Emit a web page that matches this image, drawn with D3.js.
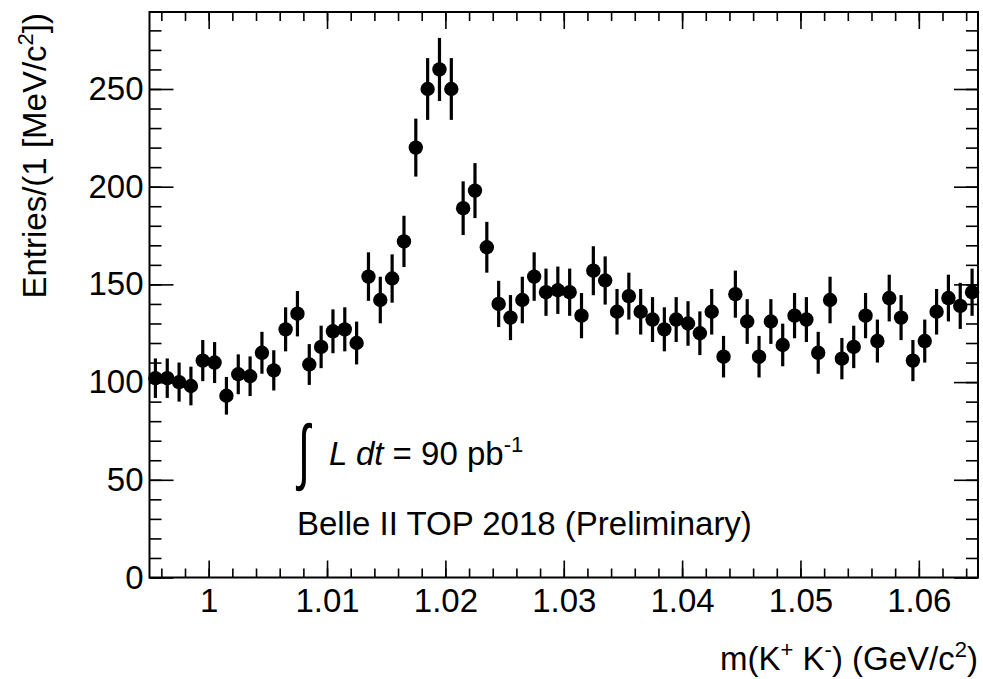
<!DOCTYPE html>
<html>
<head>
<meta charset="utf-8">
<script src="https://cdn.jsdelivr.net/npm/d3@7"></script>
<style>
  html, body { margin: 0; padding: 0; background: #fff; }
  svg { display: block; }
  text { font-family: "Liberation Sans", Arial, Helvetica, sans-serif; fill: #000; }
</style>
</head>
<body>
<svg id="chart" width="983" height="679"></svg>
<script>
// ---- data ----
const binLow = 0.995;          // GeV/c^2
const binWidth = 0.001;        // 1 MeV/c^2
const counts = [
  102, 102, 100, 98, 111, 110, 93, 104, 103, 115,
  106, 127, 135, 109, 118, 126, 127, 120, 154, 142,
  153, 172, 220, 250, 260, 250, 189, 198, 169, 140,
  133, 142, 154, 146, 147, 146, 134, 157, 152, 136,
  144, 136, 132, 127, 132, 130, 125, 136, 113, 145,
  131, 113, 131, 119, 134, 132, 115, 142, 112, 118,
  134, 121, 143, 133, 111, 121, 136, 143, 139, 146
];
const xTickValues = [1.00, 1.01, 1.02, 1.03, 1.04, 1.05, 1.06];
const xTickLabels = ["1", "1.01", "1.02", "1.03", "1.04", "1.05", "1.06"];
const yTickValues = [0, 50, 100, 150, 200, 250];
const xDomain = [0.995, 1.065];
const yDomain = [0, 289.4];

// ---- layout ----
const svg = d3.select("#chart");
const L = 149.5, R = 978, T = 12, B = 577.5;
const FS = 33, SUP = 22;

const x = d3.scaleLinear().domain(xDomain).range([L, R]);
const y = d3.scaleLinear().domain(yDomain).range([B, T]);

const points = counts.map((c, i) => ({
  x: binLow + (i + 0.5) * binWidth,
  n: c,
  err: Math.sqrt(c)
}));

// minor ticks
const xMinor = d3.range(0, 36).map(i => +(0.996 + i * 0.002).toFixed(3)).filter(v => v < 1.065);
const yMinor = d3.range(0, 29).map(i => i * 10);

const g = svg.append("g");

const xMajLen = 17, xMinLen = 9, yMajLen = 24, yMinLen = 12;

function styleAxis(sel) {
  sel.select(".domain").remove();
  sel.selectAll(".tick line").attr("stroke", "#000").attr("stroke-width", 1.6);
}
function styleText(sel) {
  sel.selectAll("text").attr("font-size", FS)
    .attr("font-family", "Liberation Sans, Arial, sans-serif").attr("fill", "#000");
}

// bottom
g.append("g").attr("transform", `translate(0,${B})`)
  .call(d3.axisBottom(x).tickValues(xMinor).tickSize(-xMinLen).tickFormat(""))
  .call(styleAxis);
g.append("g").attr("transform", `translate(0,${B})`)
  .call(d3.axisBottom(x).tickValues(xTickValues).tickSize(-xMajLen)
        .tickFormat((d, i) => xTickLabels[i]).tickPadding(11))
  .call(styleAxis).call(styleText);
// top
g.append("g").attr("transform", `translate(0,${T})`)
  .call(d3.axisTop(x).tickValues(xMinor).tickSize(-xMinLen).tickFormat(""))
  .call(styleAxis);
g.append("g").attr("transform", `translate(0,${T})`)
  .call(d3.axisTop(x).tickValues(xTickValues).tickSize(-xMajLen).tickFormat(""))
  .call(styleAxis);
// left
g.append("g").attr("transform", `translate(${L},0)`)
  .call(d3.axisLeft(y).tickValues(yMinor).tickSize(-yMinLen).tickFormat(""))
  .call(styleAxis);
g.append("g").attr("transform", `translate(${L},0)`)
  .call(d3.axisLeft(y).tickValues(yTickValues).tickSize(-yMajLen).tickFormat(d3.format("d")).tickPadding(6))
  .call(styleAxis).call(styleText);
// right
g.append("g").attr("transform", `translate(${R},0)`)
  .call(d3.axisRight(y).tickValues(yMinor).tickSize(-yMinLen).tickFormat(""))
  .call(styleAxis);
g.append("g").attr("transform", `translate(${R},0)`)
  .call(d3.axisRight(y).tickValues(yTickValues).tickSize(-yMajLen).tickFormat(""))
  .call(styleAxis);

// frame
g.append("rect").attr("x", L).attr("y", T).attr("width", R - L).attr("height", B - T)
  .attr("fill", "none").attr("stroke", "#000").attr("stroke-width", 2);

// data: error bars + markers
const dataG = g.append("g");
dataG.selectAll("line.err").data(points).join("line")
  .attr("class", "err")
  .attr("x1", d => x(d.x)).attr("x2", d => x(d.x))
  .attr("y1", d => y(d.n - d.err)).attr("y2", d => y(d.n + d.err))
  .attr("stroke", "#000").attr("stroke-width", 3.2);
dataG.selectAll("circle").data(points).join("circle")
  .attr("cx", d => x(d.x)).attr("cy", d => y(d.n)).attr("r", 7.2)
  .attr("fill", "#000");

// axis titles
const xt = svg.append("text").attr("x", 978).attr("y", 670).attr("text-anchor", "end").attr("font-size", FS);
xt.append("tspan").text("m(K");
xt.append("tspan").attr("dy", -13).attr("font-size", SUP).text("+");
xt.append("tspan").attr("dy", 13).text(" K");
xt.append("tspan").attr("dy", -13).attr("font-size", SUP).text("-");
xt.append("tspan").attr("dy", 13).text(") (GeV/c");
xt.append("tspan").attr("dy", -13).attr("font-size", SUP).text("2");
xt.append("tspan").attr("dy", 13).text(")");

const yt = svg.append("text").attr("transform", "translate(46,13) rotate(-90)")
  .attr("text-anchor", "end").attr("font-size", FS);
yt.append("tspan").text("Entries/(1 [MeV/c");
yt.append("tspan").attr("dy", -13).attr("font-size", SUP).text("2");
yt.append("tspan").attr("dy", 13).text("])");

// annotations
svg.append("text").attr("transform", "translate(298,476) scale(0.75,1.25)")
  .attr("font-size", 58).attr("font-family", "Liberation Serif, serif").text("∫");
const lum = svg.append("text").attr("x", 329).attr("y", 465).attr("font-size", FS)
  .attr("xml:space", "preserve");
lum.append("tspan").attr("font-style", "italic").text("L dt");
lum.append("tspan").text(" = 90 pb");
lum.append("tspan").attr("dy", -13).attr("font-size", SUP).text("-1");

svg.append("text").attr("x", 297).attr("y", 535).attr("font-size", FS).text("Belle II TOP 2018 (Preliminary)");
</script>
</body>
</html>
